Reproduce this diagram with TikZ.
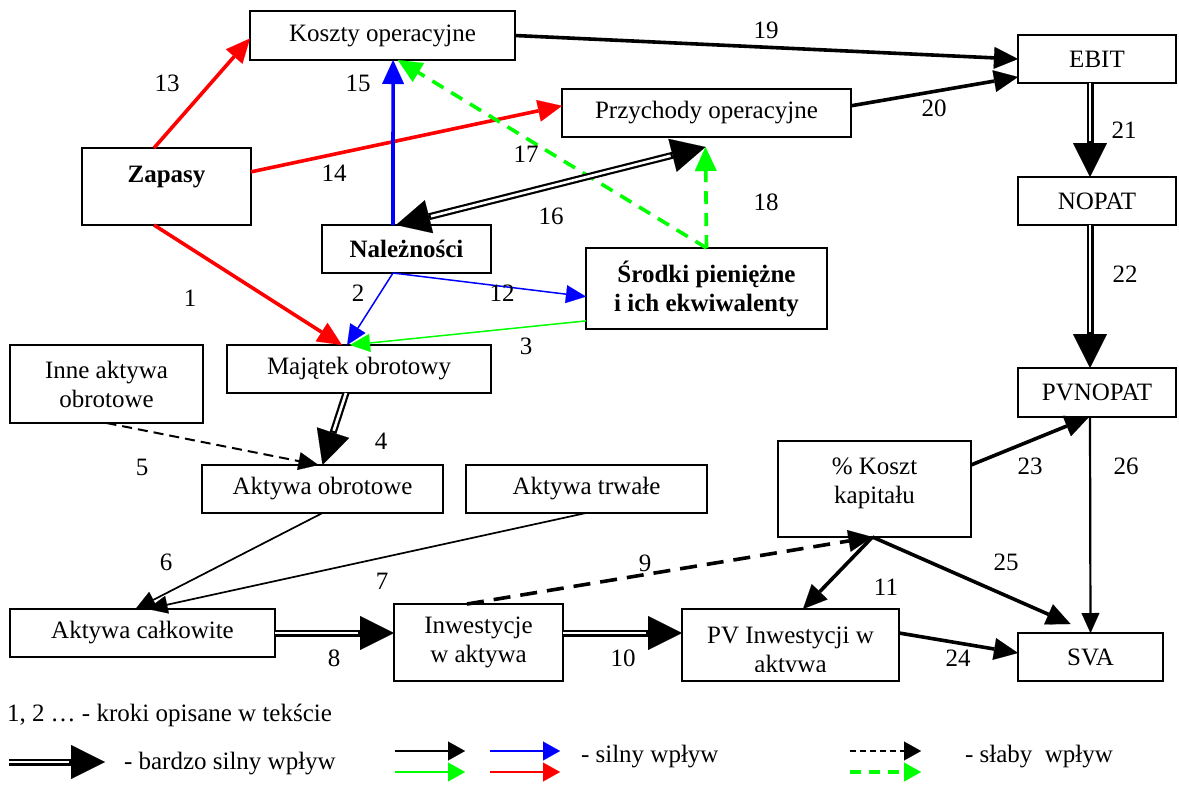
\documentclass[tikz,border=0pt]{standalone}
\usepackage{fontspec}
\setmainfont{Liberation Serif}
\usetikzlibrary{arrows.meta,calc}
\definecolor{cred}{RGB}{255,0,0}
\definecolor{cblue}{RGB}{0,0,255}
\definecolor{cgreen}{RGB}{0,255,0}
\begin{document}
\begin{tikzpicture}[x=1pt,y=-1pt,
  every node/.style={font=\fontsize{25}{29}\selectfont, inner sep=0pt, outer sep=0pt},
  box/.style={draw, line width=1.5pt, align=center},
  bold/.style={font=\fontsize{25}{29}\selectfont\bfseries, align=center},
  tip/.style={-{Triangle[length=24pt,width=22pt,line width=0.1pt]}},
  strong/.style={line width=3.6pt, tip},
  weak/.style={line width=1.7pt, -{Triangle[length=20pt,width=18pt,line width=0.1pt]}},
  vstrong/.style={line width=7pt, -{Triangle[length=34pt,width=34pt,line width=0.1pt]},
    postaction={draw=white, line width=2.6pt, -, shorten >=36pt}},
  vstrongboth/.style={line width=7pt,
    {Triangle[length=34pt,width=34pt,line width=0.1pt]}-{Triangle[length=34pt,width=34pt,line width=0.1pt]},
    postaction={draw=white, line width=2.6pt, -, shorten >=36pt, shorten <=36pt}},
  weakdash/.style={line width=3.6pt, dash pattern=on 17pt off 10pt, tip},
  greendash/.style={cgreen, line width=3.6pt, dash pattern=on 13pt off 9pt, tip},
  thindash/.style={line width=2pt, dash pattern=on 10pt off 6pt, -{Triangle[length=20pt,width=18pt,line width=0.1pt]}},
  legarrow/.style={line width=2.2pt, -{Triangle[length=17pt,width=19pt,line width=0.1pt]}},
]
\useasboundingbox (0,0) rectangle (1179,785);

% ---------- boxes ----------
\node[box, minimum width=265pt, minimum height=49pt] (kos) at (382.5,35.5) {Koszty operacyjne};
\node[box, minimum width=289pt, minimum height=48pt] (prz) at (706.5,113) {Przychody operacyjne};
\node[box, minimum width=158pt, minimum height=48pt] (ebit) at (1097,59) {EBIT};
\node[box, minimum width=169pt, minimum height=77pt] (zap) at (166.5,186.5) {};
\node[bold] (zapt) at (166.5,177) {Zapasy};
\node[box, bold, minimum width=169pt, minimum height=48pt] (nal) at (406.5,249) {Należności};
\node[box, bold, minimum width=241pt, minimum height=81pt] (sro) at (706.5,288.5) {Środki pieniężne\\i ich ekwiwalenty};
\node[box, minimum width=158pt, minimum height=48pt] (nopat) at (1097,201) {NOPAT};
\node[box, minimum width=264pt, minimum height=48pt] (maj) at (359,369) {Majątek obrotowy};
\node[box, minimum width=193pt, minimum height=78pt] (inne) at (106.5,384) {Inne aktywa\\obrotowe};
\node[box, minimum width=158pt, minimum height=49pt] (pvnopat) at (1097,392.5) {PVNOPAT};
\node[box, minimum width=241pt, minimum height=48pt] (aob) at (322.5,489) {Aktywa obrotowe};
\node[box, minimum width=241pt, minimum height=48pt] (atr) at (586.5,489) {Aktywa trwałe};
\node[box, minimum width=193pt, minimum height=96pt] (kap) at (874.5,489) {};
\node[align=center] (kapt) at (874.5,483) {\% Koszt\\kapitału};
\node[box, minimum width=265pt, minimum height=48pt] (acal) at (142.5,633) {Aktywa całkowite};
\node[box, minimum width=169pt, minimum height=77pt] (inw) at (478.5,642.5) {Inwestycje\\w aktywa};
\node[box, minimum width=217pt, minimum height=72pt] (pvi) at (790.5,645) {};
\begin{scope}
  \clip (683,610) rectangle (898,671);
  \node[align=center] (pvit) at (790.5,652) {PV Inwestycji w\\aktywa};
\end{scope}
\node[box, minimum width=145pt, minimum height=48pt] (sva) at (1090.5,657) {SVA};

% ---------- helper points ----------
\coordinate (pz) at ($(prz.south)+(-1,10)$);
\coordinate (ks) at ($(kap.south)+(-2,0)$);

% ---------- red arrows ----------
\draw[strong, cred] ($(zap.north west)!0.426!(zap.north east)$) -- ($(kos.west)+(0,3)$);
\draw[strong, cred] ($(zap.north east)!0.31!(zap.south east)$) -- ($(prz.north west)!0.35!(prz.south west)$);
\draw[strong, cred] ($(zap.south west)!0.426!(zap.south east)$) -- ($(maj.north west)!0.435!(maj.north east)$);

% ---------- blue arrows ----------
\draw[strong, cblue] ($(nal.north west)!0.42!(nal.north east)$) -- ($(kos.south west)!0.54!(kos.south east)$);
\draw[weak, cblue, line width=1.5pt] ($(nal.south west)!0.42!(nal.south east)$) -- ($(maj.north west)!0.455!(maj.north east)$);
\draw[weak, cblue, line width=1.5pt] ($(nal.south west)!0.42!(nal.south east)$) -- ($(sro.north west)!0.6!(sro.south west)$);

% ---------- green arrows ----------
\draw[weak, cgreen, line width=1.5pt] ($(sro.north west)!0.9!(sro.south west)$) -- ($(maj.north west)!0.466!(maj.north east)$);
\draw[greendash] (sro.north) -- ($(kos.south west)!0.558!(kos.south east)$);
\draw[greendash] (sro.north) -- (pz);

% ---------- black arrows ----------
\draw[vstrongboth] ($(nal.north west)!0.438!(nal.north east)$) -- (pz);
\draw[strong] (kos.east) -- (ebit.west);
\draw[strong] ($(prz.north east)!0.35!(prz.south east)$) -- ($(ebit.north west)!0.875!(ebit.south west)$);
\draw[vstrong] ($(ebit.south)+(-7,0)$) -- ($(nopat.north)+(-7,0)$);
\draw[vstrong] ($(nopat.south)+(-7,0)$) -- ($(pvnopat.north)+(-7,0)$);
\draw[vstrong] ($(maj.south)+(-13,0)$) -- (aob.north);
\draw[thindash] (inne.south) -- ($(aob.north)+(-4,0)$);
\draw[weak] (aob.south) -- ($(acal.north)+(-7,0)$);
\draw[weak] ($(atr.south)+(-0.5,0)$) -- ($(acal.north)+(5,0)$);
\draw[vstrong] (acal.east) -- ($(inw.west)+(0,-9.5)$);
\draw[vstrong] ($(inw.east)+(0,-9.5)$) -- ($(pvi.west)+(0,-12)$);
\draw[weakdash] ($(inw.north)+(-11.5,0)$) -- (ks);
\draw[strong] (ks) -- ($(pvi.north)+(12.5,0)$);
\draw[strong] (ks) -- ($(sva.north)+(-20,-9)$);
\draw[strong] ($(kap.east)+(0,-24)$) -- ($(pvnopat.south)+(-8,0)$);
\draw[weak, line width=2.2pt] ($(pvnopat.south)+(-7,0)$) -- (sva.north);
\draw[strong] ($(pvi.east)+(0,-12)$) -- ($(sva.west)+(0,-4)$);

% ---------- step numbers ----------
\node (n1) at (190,298) {1};
\node (n2) at (358,293) {2};
\node (n3) at (526,346) {3};
\node (n4) at (381,441) {4};
\node (n5) at (142,467) {5};
\node (n6) at (166,562) {6};
\node (n7) at (382,581) {7};
\node (n8) at (334,658) {8};
\node (n9) at (645,563) {9};
\node (n10) at (623,658) {10};
\node (n11) at (886,587) {11};
\node (n12) at (502,293) {12};
\node (n13) at (167,83) {13};
\node (n14) at (334,173) {14};
\node (n15) at (358,83) {15};
\node (n16) at (551,216) {16};
\node (n17) at (526,154) {17};
\node (n18) at (766,202) {18};
\node (n19) at (766,30) {19};
\node (n20) at (934,108) {20};
\node (n21) at (1124,130) {21};
\node (n22) at (1125,274) {22};
\node (n23) at (1030,466) {23};
\node (n24) at (958,658) {24};
\node (n25) at (1006,562) {25};
\node (n26) at (1126,466) {26};

% ---------- legend ----------
\node[anchor=west] (lsteps) at (7,715) {1, 2 … - kroki opisane w tekście};
\coordinate (la1) at (9,762);  \coordinate (la2) at (105,762);
\draw[vstrong] (la1) -- (la2);
\node[anchor=west] (lvs) at (124,764) {- bardzo silny wpływ};
\coordinate (lb1) at (395,751); \coordinate (lb2) at (465,751);
\coordinate (lc1) at (490,751); \coordinate (lc2) at (560,751);
\coordinate (ld1) at (395,772); \coordinate (ld2) at (465,772);
\coordinate (le1) at (490,772); \coordinate (le2) at (560,772);
\draw[legarrow] (lb1) -- (lb2);
\draw[legarrow, cblue] (lc1) -- (lc2);
\draw[legarrow, cgreen] (ld1) -- (ld2);
\draw[legarrow, cred] (le1) -- (le2);
\node[anchor=west] (ls) at (581,757) {- silny wpływ};
\coordinate (lf1) at (850,751); \coordinate (lf2) at (921,751);
\coordinate (lg1) at (850,772); \coordinate (lg2) at (921,772);
\draw[legarrow, dash pattern=on 6pt off 4pt] (lf1) -- (lf2);
\draw[legarrow, cgreen, line width=3.2pt, dash pattern=on 11pt off 8pt] (lg1) -- (lg2);
\node[anchor=west] (lw) at (965,757) {- słaby\ \ wpływ};
\end{tikzpicture}
\end{document}
